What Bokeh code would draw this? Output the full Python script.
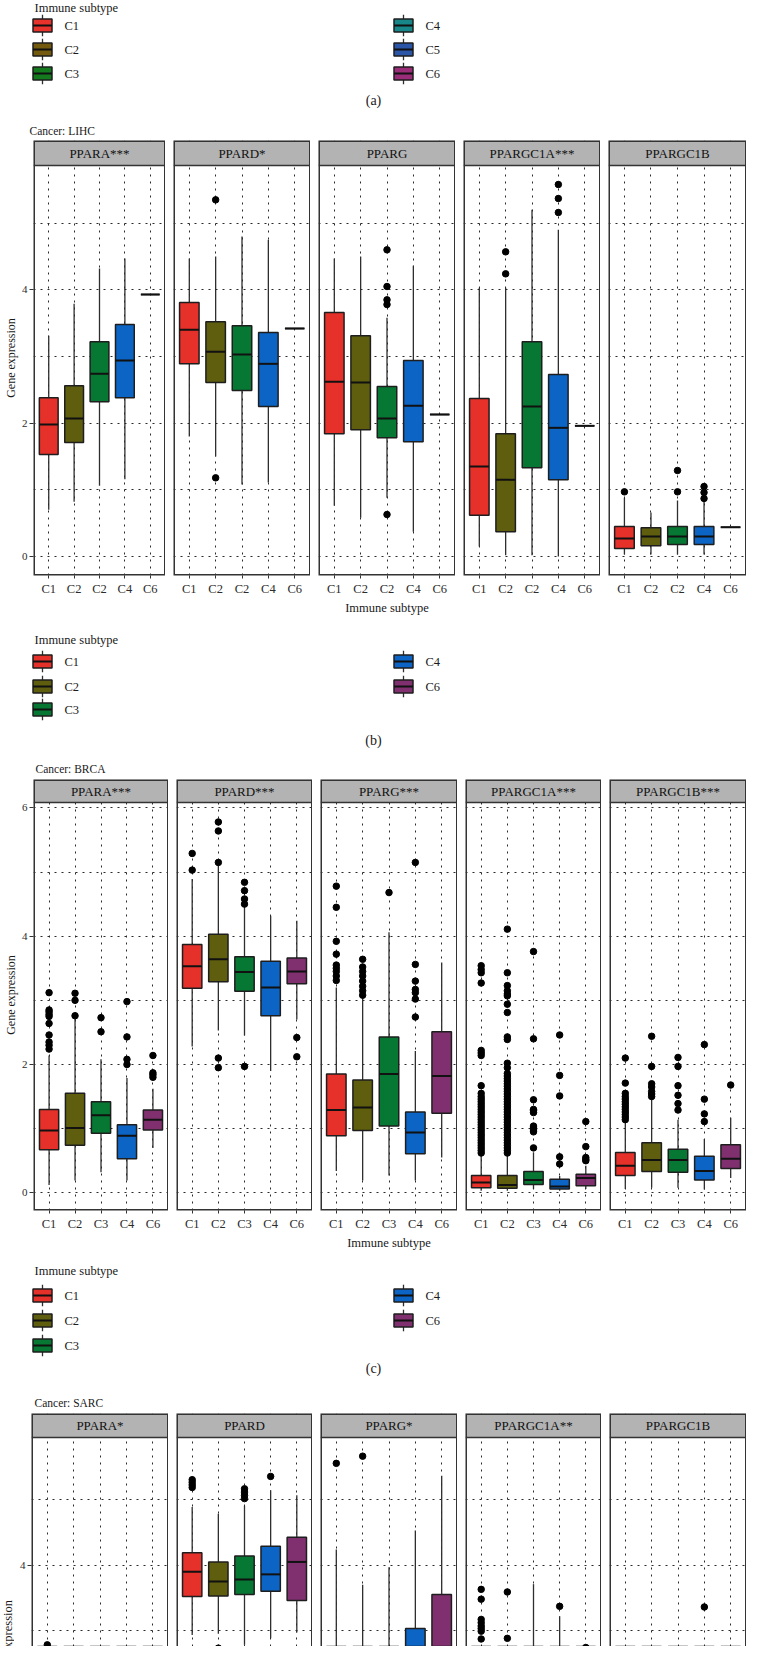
import math
from bokeh.plotting import figure
from bokeh.layouts import column, row
from bokeh.models import Range1d, FixedTicker, ColumnDataSource
from bokeh.core.properties import value
from bokeh.embed import file_html
from bokeh.resources import INLINE

FONT = "Liberation Serif"

# ---------------- data ----------------
legend_a_subtypes = ["C1", "C2", "C3", "C4", "C5", "C6"]
legend_a_colors = ["#e8322c", "#735a0e", "#147a1e", "#17878a", "#2b55a7", "#9b2c78"]

subtypes = ["C1", "C2", "C3", "C4", "C6"]
subtype_colors = ["#e6302a", "#5e5e0e", "#077833", "#0c65c4", "#80306f"]

genes = ["PPARA", "PPARD", "PPARG", "PPARGC1A", "PPARGC1B"]

# LIHC
lihc_sig = ["***", "*", "", "***", ""]
lihc_ticks = ["C1", "C2", "C2", "C4", "C6"]
lihc_low = [[0.70, 0.82, 1.06, 1.16, 3.93], [1.80, 1.50, 1.08, 1.11, 3.42],
            [0.76, 0.58, 0.88, 0.37, 2.13], [0.15, 0.02, 0.02, 0.00, 1.96],
            [0.03, 0.03, 0.03, 0.03, 0.44]]
lihc_q1 = [[1.53, 1.71, 2.32, 2.38, 3.93], [2.89, 2.61, 2.49, 2.25, 3.42],
           [1.84, 1.90, 1.78, 1.72, 2.13], [0.62, 0.37, 1.33, 1.15, 1.96],
           [0.12, 0.16, 0.18, 0.18, 0.44]]
lihc_med = [[1.98, 2.07, 2.74, 2.94, 3.93], [3.40, 3.07, 3.03, 2.89, 3.42],
            [2.62, 2.61, 2.07, 2.26, 2.13], [1.35, 1.15, 2.25, 1.93, 1.96],
            [0.27, 0.30, 0.30, 0.30, 0.44]]
lihc_q3 = [[2.38, 2.56, 3.22, 3.48, 3.93], [3.81, 3.52, 3.46, 3.36, 3.42],
           [3.66, 3.31, 2.55, 2.94, 2.13], [2.37, 1.84, 3.22, 2.73, 1.96],
           [0.45, 0.43, 0.45, 0.45, 0.44]]
lihc_high = [[3.31, 3.79, 4.32, 4.47, 3.93], [4.47, 4.50, 4.80, 4.75, 3.42],
             [4.47, 4.50, 3.58, 4.36, 2.13], [4.03, 4.03, 5.20, 4.90, 1.96],
             [0.88, 0.66, 0.84, 0.84, 0.44]]
lihc_out = [[[], [], [], [], []],
            [[], [5.35, 1.18], [], [], []],
            [[], [], [4.60, 4.05, 3.85, 3.78, 0.63], [], []],
            [[], [4.57, 4.24], [], [5.58, 5.37, 5.16], []],
            [[0.97], [], [0.97, 1.29], [0.87, 0.96, 1.05], []]]

# BRCA
brca_sig = ["***", "***", "***", "***", "***"]
brca_ticks = ["C1", "C2", "C3", "C4", "C6"]
brca_low = [[0.12, 0.19, 0.32, 0.19, 0.70], [2.28, 2.53, 2.45, 1.90, 2.70],
            [0.34, 0.19, 0.27, 0.19, 0.55], [0.03, 0.03, 0.06, 0.03, 0.06],
            [0.06, 0.08, 0.08, 0.05, 0.23]]
brca_q1 = [[0.67, 0.74, 0.93, 0.53, 0.98], [3.19, 3.29, 3.14, 2.76, 3.26],
           [0.89, 0.97, 1.04, 0.61, 1.24], [0.08, 0.07, 0.13, 0.06, 0.11],
           [0.27, 0.33, 0.32, 0.20, 0.38]]
brca_med = [[0.97, 1.01, 1.21, 0.89, 1.14], [3.53, 3.64, 3.44, 3.20, 3.45],
            [1.29, 1.33, 1.85, 0.94, 1.82], [0.16, 0.12, 0.20, 0.10, 0.23],
            [0.42, 0.51, 0.51, 0.34, 0.53]]
brca_q3 = [[1.30, 1.55, 1.42, 1.06, 1.29], [3.87, 4.03, 3.68, 3.61, 3.66],
           [1.85, 1.76, 2.43, 1.26, 2.51], [0.27, 0.27, 0.33, 0.21, 0.29],
           [0.63, 0.78, 0.68, 0.57, 0.75]]
brca_high = [[2.14, 2.71, 2.08, 1.79, 1.62], [4.89, 5.10, 4.46, 4.32, 4.24],
             [3.20, 3.04, 4.06, 2.21, 3.59], [0.60, 0.58, 0.63, 0.26, 0.42],
             [1.11, 1.46, 1.14, 0.84, 1.17]]
brca_out = [
    [[2.24, 2.30, 2.35, 2.46, 2.64, 2.75, 2.78, 2.82, 2.85, 3.12],
     [2.76, 3.00, 3.11], [2.51, 2.73], [2.00, 2.08, 2.43, 2.98],
     [1.80, 1.84, 1.87, 2.14]],
    [[5.03, 5.29], [5.15, 5.64, 5.78, 2.10, 1.95], [4.50, 4.58, 4.71, 4.84, 1.97],
     [], [2.42, 2.12]],
    [[3.31, 3.38, 3.45, 3.50, 3.55, 3.72, 3.92, 4.45, 4.78],
     [3.08, 3.15, 3.22, 3.30, 3.38, 3.45, 3.52, 3.64], [4.68],
     [2.74, 3.02, 3.12, 3.17, 3.30, 3.56, 5.15], []],
    [[0.62, 0.66, 0.70, 0.74, 0.78, 0.82, 0.86, 0.90, 0.94, 0.98, 1.02, 1.06,
      1.10, 1.14, 1.18, 1.22, 1.26, 1.30, 1.34, 1.38, 1.42, 1.46, 1.50, 1.55,
      1.67, 2.14, 2.18, 2.22, 3.27, 3.43, 3.48, 3.54],
     [0.62, 0.66, 0.70, 0.74, 0.78, 0.82, 0.86, 0.90, 0.94, 0.98, 1.02, 1.06,
      1.10, 1.14, 1.18, 1.22, 1.26, 1.30, 1.34, 1.38, 1.42, 1.46, 1.50, 1.54,
      1.58, 1.62, 1.66, 1.70, 1.74, 1.78, 1.82, 1.86, 1.95, 2.02, 2.39, 2.43,
      2.81, 2.94, 3.07, 3.10, 3.15, 3.23, 3.43, 4.11],
     [0.70, 0.95, 0.98, 1.01, 1.04, 1.25, 1.28, 1.30, 1.45, 2.40, 3.76],
     [0.45, 0.56, 1.51, 1.83, 2.46],
     [0.50, 0.52, 0.55, 0.72, 1.11]],
    [[1.14, 1.18, 1.22, 1.26, 1.30, 1.34, 1.38, 1.42, 1.46, 1.50, 1.55, 1.71, 2.10],
     [1.50, 1.54, 1.58, 1.65, 1.70, 1.97, 2.44],
     [1.29, 1.39, 1.52, 1.67, 1.97, 2.11],
     [1.11, 1.23, 1.46, 2.31], [1.68]],
]

# SARC (only the upper part is visible; lower values are estimates)
sarc_sig = ["*", "", "*", "**", ""]
sarc_ticks = ["C1", "C2", "C3", "C4", "C6"]
sarc_low = [[0.30, 0.40, 0.50, 0.30, 0.40], [2.93, 2.95, 2.78, 2.88, 2.97],
            [0.10, 0.10, 0.20, 0.60, 0.80], [0.00, 0.00, 0.10, 0.10, 0.00],
            [0.00, 0.00, 0.00, 0.00, 0.00]]
sarc_q1 = [[0.90, 1.00, 1.10, 0.80, 0.90], [3.52, 3.53, 3.55, 3.60, 3.46],
           [0.90, 1.00, 1.10, 1.80, 2.20], [0.30, 0.40, 0.60, 0.50, 0.30],
           [0.20, 0.20, 0.20, 0.30, 0.20]]
sarc_med = [[1.30, 1.40, 1.50, 1.20, 1.30], [3.90, 3.75, 3.78, 3.86, 4.05],
            [1.50, 1.60, 1.70, 2.40, 2.60], [0.70, 0.80, 1.10, 1.00, 0.70],
            [0.50, 0.50, 0.50, 0.60, 0.50]]
sarc_q3 = [[1.80, 1.90, 1.90, 1.70, 1.70], [4.19, 4.05, 4.14, 4.29, 4.43],
           [2.20, 2.30, 2.40, 3.03, 3.55], [1.20, 1.30, 1.80, 1.60, 1.20],
           [0.80, 0.80, 0.80, 0.90, 0.80]]
sarc_high = [[2.60, 2.74, 2.60, 2.40, 2.40], [4.89, 4.79, 4.91, 5.15, 5.07],
             [4.24, 3.70, 3.97, 4.53, 5.37], [2.40, 2.50, 3.71, 3.22, 2.20],
             [1.60, 1.60, 1.70, 1.80, 1.50]]
sarc_out = [[[2.78, 2.70], [], [2.66], [], []],
            [[5.19, 5.23, 5.27, 5.31], [2.73], [5.02, 5.07, 5.12, 5.17], [5.36], []],
            [[5.56], [5.67], [], [], []],
            [[3.63, 3.48, 3.17, 3.12, 3.07, 3.03, 2.99, 2.87], [3.59, 2.88], [], [3.37], [2.74]],
            [[], [], [], [3.36], []]]

# ---------------- layout constants ----------------
W = 746
GAP = 8
XPOS = [1, 2, 3, 4, 5]
BOXW = 0.74
STRIP_FILL = "#b3b3b3"
EDGE = "#333333"
SARC_LABEL_W = 14

sections = {
    "LIHC": dict(sig=lihc_sig, ticks=lihc_ticks, low=lihc_low, q1=lihc_q1, med=lihc_med,
                 q3=lihc_q3, high=lihc_high, out=lihc_out,
                 strip_px=25, panel_px=410, ylim=(-0.285, 5.865), yticks=[0, 2, 4],
                 grid=[0, 1, 2, 3, 4, 5], left=27, widths=[138, 137, 137, 137, 138],
                 bottom=42, ylabel=True),
    "BRCA": dict(sig=brca_sig, ticks=brca_ticks, low=brca_low, q1=brca_q1, med=brca_med,
                 q3=brca_q3, high=brca_high, out=brca_out,
                 strip_px=23, panel_px=408, ylim=(-0.276, 6.084), yticks=[0, 2, 4, 6],
                 grid=[0, 1, 2, 3, 4, 5, 6], left=31, widths=[137, 136, 137, 136, 137],
                 bottom=44, ylabel=True),
    "SARC": dict(sig=sarc_sig, ticks=sarc_ticks, low=sarc_low, q1=sarc_q1, med=sarc_med,
                 q3=sarc_q3, high=sarc_high, out=sarc_out,
                 strip_px=24, panel_px=209, ylim=(2.755, 5.956), yticks=[0, 2, 4],
                 grid=[3, 4, 5], left=31 - SARC_LABEL_W, widths=[137, 136, 137, 136, 137],
                 bottom=0, ylabel=False),
}


def facet(sec, gi):
    g = sections[sec]
    ymin, ymax = g["ylim"]
    unit_px = g["panel_px"] / (ymax - ymin)
    ytop = ymax + g["strip_px"] / unit_px
    first = gi == 0
    lb = g["left"] if first else GAP
    has_x = g["bottom"] > 0
    p = figure(width=g["widths"][gi] + lb, height=g["strip_px"] + g["panel_px"] + g["bottom"],
               x_range=Range1d(0.4, 5.6), y_range=Range1d(ymin, ytop),
               output_backend="svg", toolbar_location=None,
               x_axis_location="below" if has_x else None,
               y_axis_location="left" if first else None,
               min_border_left=lb, min_border_right=0, min_border_top=0,
               min_border_bottom=g["bottom"])
    p.outline_line_color = None
    p.background_fill_color = "white"
    p.border_fill_color = "white"

    p.xgrid.ticker = FixedTicker(ticks=XPOS)
    p.ygrid.ticker = FixedTicker(ticks=g["grid"])
    for gr in (p.xgrid, p.ygrid):
        gr.grid_line_color = "#2a2a2a"
        gr.grid_line_dash = "2 5"
        gr.grid_line_width = 1

    if has_x:
        ax = p.xaxis[0]
        ax.ticker = FixedTicker(ticks=XPOS)
        ax.major_label_overrides = {x: t for x, t in zip(XPOS, g["ticks"])}
        ax.axis_line_color = None
        ax.major_tick_in = 0
        ax.major_tick_out = 3
        ax.major_tick_line_color = EDGE
        ax.minor_tick_line_color = None
        ax.major_label_standoff = 3
        ax.major_label_text_font = FONT
        ax.major_label_text_font_size = "12.5px"
        ax.major_label_text_color = "#2b2b2b"
        if gi == 2:
            ax.axis_label = "Immune subtype"
            ax.axis_label_text_font = FONT
            ax.axis_label_text_font_size = "12.5px"
            ax.axis_label_text_font_style = "normal"
            ax.axis_label_text_color = "#1a1a1a"
            ax.axis_label_standoff = 2
    if first:
        ay = p.yaxis[0]
        ay.ticker = FixedTicker(ticks=g["yticks"])
        ay.axis_line_color = None
        ay.major_tick_in = 0
        ay.major_tick_out = 4
        ay.major_tick_line_color = EDGE
        ay.minor_tick_line_color = None
        ay.major_label_standoff = 2
        ay.major_label_text_font = FONT
        ay.major_label_text_font_size = "11px"
        ay.major_label_text_color = "#2b2b2b"
        if g["ylabel"]:
            ay.axis_label = "Gene expression"
            ay.axis_label_text_font = FONT
            ay.axis_label_text_font_size = "12px"
            ay.axis_label_text_font_style = "normal"
            ay.axis_label_text_color = "#1a1a1a"
            ay.axis_label_standoff = 1

    # boxes
    low, q1, med, q3, high = (g[k][gi] for k in ("low", "q1", "med", "q3", "high"))
    src = ColumnDataSource(dict(x=XPOS, low=low, q1=q1, med=med, q3=q3, high=high,
                                color=subtype_colors,
                                x0=[x - BOXW / 2 for x in XPOS],
                                x1=[x + BOXW / 2 for x in XPOS]))
    p.segment(x0="x", y0="q3", x1="x", y1="high", source=src, line_color="#2e2e2e", line_width=1.3)
    p.segment(x0="x", y0="low", x1="x", y1="q1", source=src, line_color="#2e2e2e", line_width=1.3)
    p.vbar(x="x", width=BOXW, bottom="q1", top="q3", source=src, fill_color="color",
           line_color="#1e1e1e", line_width=1.5)
    p.segment(x0="x0", y0="med", x1="x1", y1="med", source=src, line_color="#111111", line_width=2)

    ox, oy = [], []
    for x, vals in zip(XPOS, g["out"][gi]):
        ox += [x] * len(vals)
        oy += vals
    p.scatter(ox, oy, size=6.5, color="black")

    # strip
    p.quad(left=[0.4], right=[5.6], bottom=[ymax], top=[ytop], fill_color=STRIP_FILL, line_color=None)
    p.segment(x0=[0.4], y0=[ymax], x1=[5.6], y1=[ymax], line_color=EDGE, line_width=1.5)
    p.text(x=[3.0], y=[(ymax + ytop) / 2], text=[genes[gi] + g["sig"][gi]],
           text_font=value(FONT), text_font_size="13px", text_color="#111111",
           text_align="center", text_baseline="middle")
    # panel border (half of the width is clipped at the frame edge)
    pb = ymin if has_x else ymin - 1
    p.quad(left=[0.4], right=[5.6], bottom=[pb], top=[ytop], fill_color=None,
           line_color=EDGE, line_width=3)
    return p


def sarc_ylabel():
    g = sections["SARC"]
    h = g["strip_px"] + g["panel_px"]
    p = figure(width=SARC_LABEL_W, height=h, x_range=Range1d(0, SARC_LABEL_W),
               y_range=Range1d(0, h), output_backend="svg", toolbar_location=None,
               min_border=0, x_axis_location=None, y_axis_location=None)
    p.outline_line_color = None
    p.grid.visible = False
    # the label continues below the visible page edge, as in the reference
    p.text(x=[7], y=[5], text=["Gene expression"], angle=math.pi / 2,
           text_font=value(FONT), text_font_size="12.5px", text_color="#1a1a1a",
           text_align="center", text_baseline="middle")
    return p


def section_row(sec):
    figs = [facet(sec, gi) for gi in range(5)]
    if sec == "SARC":
        figs = [sarc_ylabel()] + figs
    return row(figs, spacing=0)


def band(height, legend_names, legend_colors, title_y, key_ys, tag, tag_y, cancer, cancer_x, cancer_y):
    p = figure(width=W, height=height, x_range=Range1d(0, W), y_range=Range1d(height, 0),
               output_backend="svg", toolbar_location=None, min_border=0,
               x_axis_location=None, y_axis_location=None)
    p.outline_line_color = None
    p.grid.visible = False
    txt = dict(text_font=value(FONT), text_color="#1a1a1a", text_baseline="middle")
    p.text(x=[34], y=[title_y], text=["Immune subtype"], text_font_size="12.5px",
           text_align="left", **txt)
    kx_col = [42, 403]
    lx_col = [64, 425]
    kx, ky, lx, cols = [], [], [], []
    for i, (n, c) in enumerate(zip(legend_names, legend_colors)):
        col, r = divmod(i, 3)
        kx.append(kx_col[col])
        ky.append(key_ys[r])
        lx.append(lx_col[col])
        cols.append(c)
    hw, hh, wl = 9.5, 6.5, 10.8
    p.segment(x0=kx, y0=[y - wl for y in ky], x1=kx, y1=[y + wl for y in ky],
              line_color="#2e2e2e", line_width=1.3)
    p.quad(left=[x - hw for x in kx], right=[x + hw for x in kx],
           top=[y - hh for y in ky], bottom=[y + hh for y in ky],
           fill_color=cols, line_color="#1e1e1e", line_width=1.5)
    p.segment(x0=[x - hw for x in kx], y0=ky, x1=[x + hw for x in kx], y1=ky,
              line_color="#111111", line_width=2)
    p.text(x=lx, y=ky, text=list(legend_names), text_font_size="12.5px", text_align="left", **txt)
    p.text(x=[373], y=[tag_y], text=[tag], text_font_size="14px", text_align="center", **txt)
    if cancer:
        p.text(x=[cancer_x], y=[cancer_y], text=[cancer], text_font_size="11.5px",
               text_align="left", **txt)
    return p


band_a = band(140, legend_a_subtypes, legend_a_colors, 7, [25, 49, 73], "(a)", 100,
              "Cancer: LIHC", 29, 130)
band_b = band(162, subtypes, subtype_colors, 22, [44, 69, 92], "(b)", 123,
              "Cancer: BRCA", 35, 151)
band_c = band(159, subtypes, subtype_colors, 16, [41, 66, 91], "(c)", 114,
              "Cancer: SARC", 34, 148)

layout = column([band_a, section_row("LIHC"), band_b, section_row("BRCA"), band_c,
                 section_row("SARC")], spacing=0)

open("out.html", "w").write(file_html(layout, INLINE))
